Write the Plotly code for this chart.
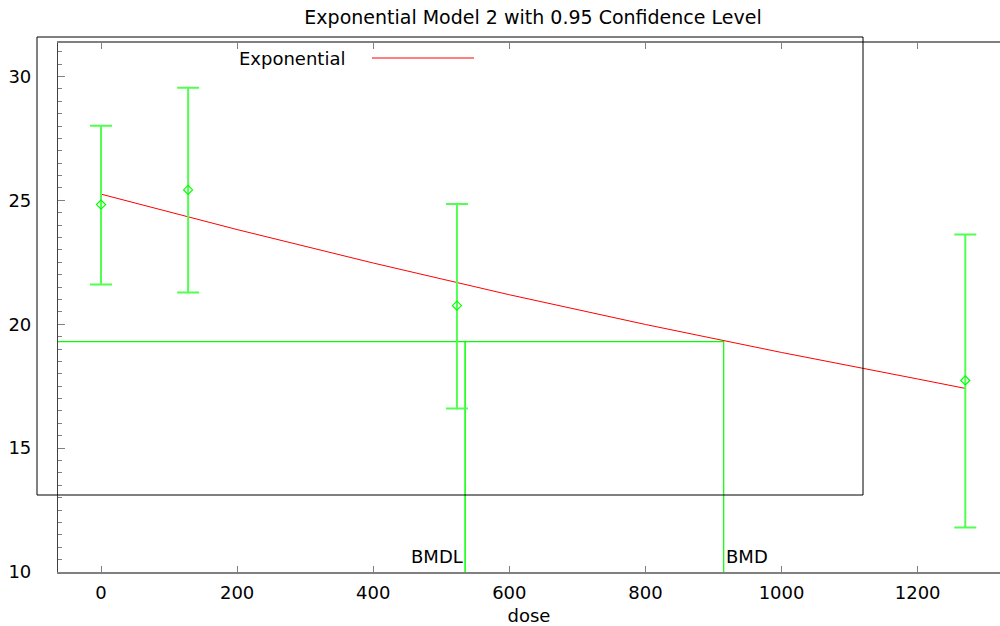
import plotly.graph_objects as go

# ---- data ----
dose = [0, 128, 523, 1270]
mean = [24.83, 25.42, 20.75, 17.73]
ci_upper = [28.01, 29.54, 24.85, 23.62]
ci_lower = [21.60, 21.28, 16.60, 11.80]

fit_dose = [0, 200, 400, 600, 800, 1000, 1200, 1270]
fit_resp = [25.25, 23.82, 22.47, 21.19, 19.99, 18.86, 17.79, 17.41]

bmr_level = 19.30
bmd = 915
bmdl = 535

x_range = [-63.2, 1321]
y_range = [10, 31.35]
x_ticks = [0, 200, 400, 600, 800, 1000, 1200]
y_ticks = [10, 15, 20, 25, 30]

FONT = "DejaVu Sans"
FS = 18
GREEN = "rgb(0,255,0)"
GREEN_EB = "rgb(80,255,80)"

W, H = 1000, 626
ML, MR, MT, MB = 58, 0, 43, 54
PW, PH = W - ML - MR, H - MT - MB


def px(x):
    return (x - ML) / PW


def py(y):
    return (H - MB - y) / PH


fig = go.Figure()

# BMD / BMDL lines
fig.add_trace(go.Scatter(
    x=[x_range[0], bmd, bmd], y=[bmr_level, bmr_level, y_range[0]],
    mode="lines", line=dict(color=GREEN, width=1.2), showlegend=False, hoverinfo="skip"))
fig.add_trace(go.Scatter(
    x=[bmdl, bmdl], y=[bmr_level, y_range[0]],
    mode="lines", line=dict(color=GREEN, width=1.5), showlegend=False, hoverinfo="skip"))

# fitted curve
fig.add_trace(go.Scatter(
    x=fit_dose, y=fit_resp, mode="lines",
    line=dict(color="red", width=1), name="Exponential", showlegend=False))

# data with error bars
plus = [u - m for u, m in zip(ci_upper, mean)]
minus = [m - l for m, l in zip(mean, ci_lower)]
fig.add_trace(go.Scatter(
    x=dose, y=mean, mode="markers",
    marker=dict(symbol="diamond-open", size=7, color=GREEN, line=dict(width=1.2, color=GREEN)),
    error_y=dict(type="data", array=plus, arrayminus=minus, visible=True,
                 color=GREEN_EB, thickness=2, width=11),
    showlegend=False))

# legend (text before sample line, as in reference)
fig.add_annotation(x=px(347), y=py(58), xref="paper", yref="paper",
                   text="Exponential", showarrow=False, xanchor="right", yanchor="middle",
                   font=dict(family=FONT, size=FS, color="black"))
fig.add_shape(type="line", xref="paper", yref="paper",
              x0=px(372), x1=px(474), y0=py(58), y1=py(58),
              line=dict(color="red", width=1))
# legend box
fig.add_shape(type="rect", xref="paper", yref="paper",
              x0=px(37), x1=px(863), y0=py(495), y1=py(37),
              line=dict(color="black", width=1), layer="above")

# BMD labels
fig.add_annotation(x=bmdl, y=y_range[0], text="BMDL", showarrow=False,
                   xanchor="right", yanchor="bottom", yshift=3,
                   font=dict(family=FONT, size=FS, color="black"))
fig.add_annotation(x=bmd, y=y_range[0], text="BMD", showarrow=False,
                   xanchor="left", yanchor="bottom", yshift=3,
                   font=dict(family=FONT, size=FS, color="black"))

fig.update_layout(
    width=W, height=H,
    margin=dict(l=ML, r=MR, t=MT, b=MB, autoexpand=False),
    paper_bgcolor="white", plot_bgcolor="white",
    font=dict(family=FONT, size=FS, color="black"),
    title=dict(text="Exponential Model 2 with 0.95 Confidence Level",
               x=0.533, xref="container", xanchor="center",
               y=1 - 17.5 / H, yref="container", yanchor="middle",
               font=dict(family=FONT, size=19, color="black")),
    showlegend=False,
)

fig.update_xaxes(
    range=x_range, tickvals=x_ticks, ticks="inside", ticklen=6, tickcolor="#808080",
    tickwidth=1, showline=True, linecolor="#808080", linewidth=1.5, mirror="ticks",
    showgrid=False, zeroline=False, ticklabelstandoff=4, automargin=False,
    title=dict(text="dose", standoff=9, font=dict(family=FONT, size=FS)),
    tickfont=dict(family=FONT, size=FS),
)
fig.update_yaxes(
    range=y_range, tickvals=y_ticks, ticks="inside", ticklen=7, tickcolor="#808080",
    tickwidth=1, showline=True, linecolor="#404040", linewidth=1.2, mirror=False,
    showgrid=False, zeroline=False, ticklabelstandoff=22, automargin=False,
    minor=dict(dtick=0.5, ticks="inside", ticklen=4, tickcolor="#808080", showgrid=False),
    tickfont=dict(family=FONT, size=FS),
)

fig.write_html("out.html", config={"displayModeBar": False},
               post_script="document.body.style.margin='0';")
